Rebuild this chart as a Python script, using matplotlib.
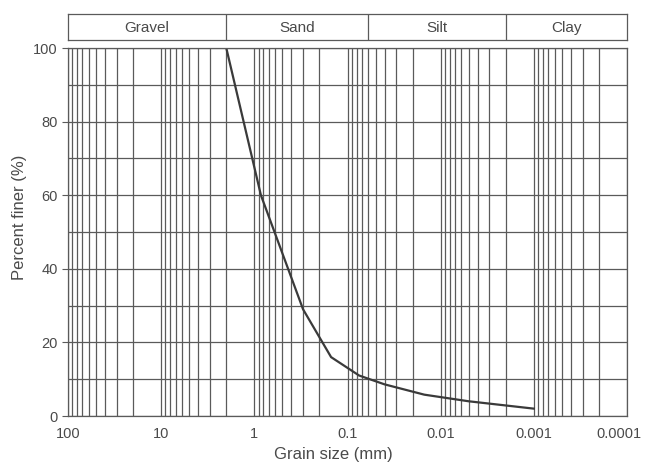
import numpy as np
import matplotlib
matplotlib.use('Agg')
import matplotlib.pyplot as plt
import matplotlib.ticker as ticker
import matplotlib.transforms as mtrans

plt.rcParams['font.family'] = ['Liberation Sans', 'DejaVu Sans']

# grain size distribution
grain_mm = [2.0, 0.85, 0.3, 0.15, 0.075, 0.04, 0.015, 0.005, 0.001]
pct_finer = [100, 60, 29, 16, 11, 8.6, 5.8, 4.0, 2.0]

# soil classes on the band above the chart
classes = ['Gravel', 'Sand', 'Silt', 'Clay']
class_edges = [100, 2.0, 0.06, 0.002, 0.0001]

x_ticks = [100, 10, 1, 0.1, 0.01, 0.001, 0.0001]
x_labels = ['100', '10', '1', '0.1', '0.01', '0.001', '0.0001']
y_ticks = [0, 20, 40, 60, 80, 100]

grid_col = '#5a5a5a'
text_col = '#4a4a4a'

fig = plt.figure(figsize=(6.48, 4.69), dpi=100)
ax = fig.add_axes([68/648, 53/469, 559/648, 368/469])

ax.set_xscale('log')
ax.set_xlim(100, 0.0001)
ax.set_ylim(0, 100)

# log paper grid: every 1..9 in each decade, horizontal every 10 %
ax.xaxis.set_major_locator(ticker.FixedLocator(x_ticks))
ax.xaxis.set_major_formatter(ticker.FixedFormatter(x_labels))
ax.xaxis.set_minor_locator(ticker.LogLocator(base=10, subs=np.arange(2, 10)))
ax.xaxis.set_minor_formatter(ticker.NullFormatter())
ax.yaxis.set_major_locator(ticker.FixedLocator(y_ticks))
ax.yaxis.set_minor_locator(ticker.MultipleLocator(10))

ax.grid(True, which='both', axis='x', color=grid_col, linewidth=0.9)
ax.grid(True, which='both', axis='y', color=grid_col, linewidth=0.9)

ax.tick_params(axis='x', which='both', length=0, pad=8, labelsize=10.5, labelcolor=text_col)
ax.tick_params(axis='y', which='major', length=4, color=grid_col, labelsize=10.5, labelcolor=text_col)
ax.tick_params(axis='y', which='minor', length=0)

for s in ax.spines.values():
    s.set_color(grid_col)
    s.set_linewidth(0.9)

ax.plot(grain_mm, pct_finer, color='#3a3a3a', linewidth=1.6)

ax.set_xlabel('Grain size (mm)', fontsize=12, color=text_col, labelpad=1)
ax.xaxis.set_label_coords(0.474, -0.085)
ax.set_ylabel('Percent finer (%)', fontsize=12, color=text_col)
ax.yaxis.set_label_coords(-0.073, 0.54)

# last tick label sits a little left so it stays inside the figure
fig.canvas.draw()
last = ax.get_xticklabels()[-1]
last.set_transform(last.get_transform() + mtrans.ScaledTranslation(-6/72, 0, fig.dpi_scale_trans))

# class band on top
band = fig.add_axes([68/648, 429/469, 559/648, 26/469])
band.set_xscale('log')
band.set_xlim(100, 0.0001)
band.set_ylim(0, 1)
band.set_xticks([])
band.set_yticks([])
band.xaxis.set_minor_locator(ticker.NullLocator())
for s in band.spines.values():
    s.set_color(grid_col)
    s.set_linewidth(0.9)
for i, name in enumerate(classes):
    lo, hi = class_edges[i], class_edges[i + 1]
    if i > 0:
        band.axvline(lo, color=grid_col, linewidth=0.9)
    band.text(np.sqrt(lo * hi), 0.45, name, ha='center', va='center',
              fontsize=11, color=text_col)

fig.savefig('out.png', dpi=100)
